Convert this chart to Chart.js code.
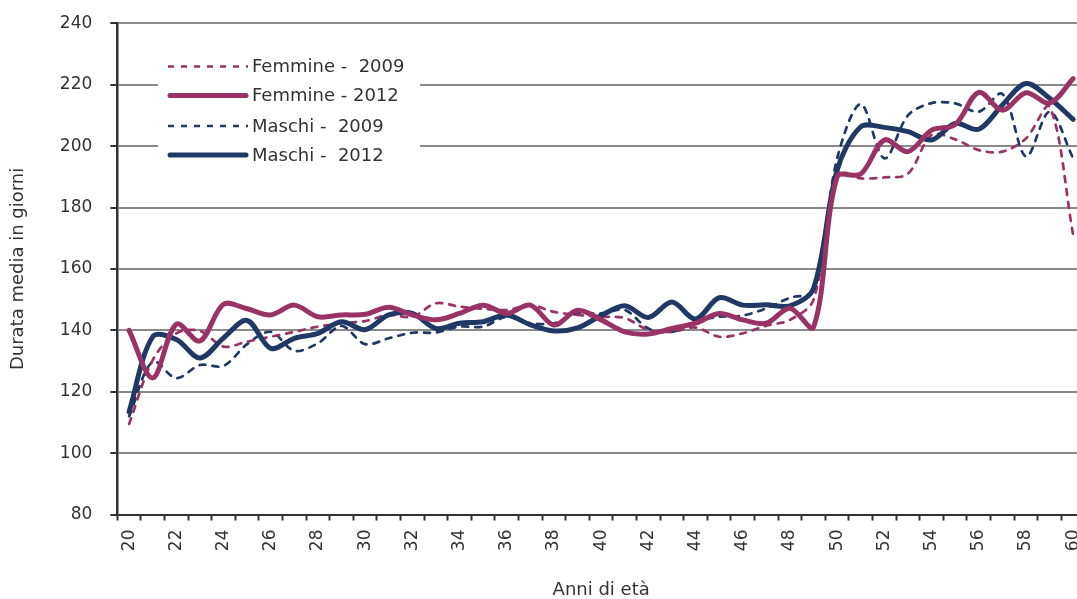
<!DOCTYPE html>
<html><head><meta charset="utf-8">
<script src="https://cdn.jsdelivr.net/npm/chart.js@4.4.1/dist/chart.umd.min.js"></script>
<style>html,body{margin:0;padding:0;background:#fff;overflow:hidden}#wrap{position:relative;width:1100px;height:599px}</style>
</head><body><div id="wrap"><canvas id="c" width="1100" height="599"></canvas></div>
<script>
const ages = [20,21,22,23,24,25,26,27,28,29,30,31,32,33,34,35,36,37,38,39,40,41,42,43,44,45,46,47,48,49,50,51,52,53,54,55,56,57,58,59,60];
const yTicks = [80,100,120,140,160,180,200,220,240];
const femmine2009 = [109.5,130.3,139,139.8,134.7,136.3,137.9,139.5,141.2,142.3,143,145,144.4,148.8,147.7,147,146.6,148.2,146,145,144.4,144,140.1,139.5,140.9,137.9,139,141.5,143.4,150,191,189.5,189.8,191,203.6,202.2,198.7,198.2,202.5,212.8,171];
const femmine2012 = [140,124.5,142,136.5,148.5,147,145,148.2,144.4,145,145.2,147.5,145,143.4,145.5,148.2,145.5,148.2,141.7,146.5,143.4,139.5,138.8,140.6,142.3,145.5,143.4,142.3,147.2,141,190,190.9,202,198.2,205.2,207,217.5,211.7,217.4,214,222];
const maschi2009 = [112,129.8,124.4,128.7,128.4,135.5,139.5,133.3,135.8,141.4,135.5,137.4,139.2,139.3,141.2,141.2,144.4,142.3,142.3,145.5,145.5,146.6,140.6,139.5,142.8,144.4,144.8,147.2,150.6,153,196,213.7,196,210,214,213.9,211.2,217,196.6,211.2,196];
const maschi2012 = [113.5,137.9,137,131,137.5,143.2,134.1,137.4,139,142.8,140.2,145,145.5,140.6,142.3,142.8,145,141.8,139.8,140.8,144.8,148,144.2,149.2,143.7,150.6,148.2,148.3,148,153.7,192.2,206.3,206.1,204.7,202,207.4,205.5,213.4,220.4,215.6,208.7];

const MAROON = '#993366';
const NAVY = '#1F3864';
const TEXT = '#333333';
const FONT = 'DejaVu Sans';

const LEG = {x: 158, y: 50, w: 262, h: 122, lineX0: 168, lineX1: 248, textX: 252, rows: [66.5, 95.5, 126, 155], size: 18};

const legendPlugin = {
  id: 'boxLegend',
  afterDatasetsDraw(chart) {
    const ctx = chart.ctx;
    ctx.save();
    ctx.fillStyle = '#ffffff';
    ctx.fillRect(LEG.x, LEG.y, LEG.w, LEG.h);
    chart.data.datasets.forEach((ds, i) => {
      const y = LEG.rows[i];
      ctx.beginPath();
      const dashed = ds.borderDash && ds.borderDash.length;
      ctx.setLineDash(dashed ? ds.borderDash : []);
      ctx.lineCap = dashed ? 'butt' : 'round';
      ctx.lineWidth = ds.borderWidth;
      ctx.strokeStyle = ds.borderColor;
      ctx.moveTo(dashed ? LEG.lineX0 : LEG.lineX0 + 2, y);
      ctx.lineTo(dashed ? LEG.lineX1 : LEG.lineX1 - 2, y);
      ctx.stroke();
      ctx.setLineDash([]);
      ctx.fillStyle = TEXT;
      ctx.font = LEG.size + 'px "' + FONT + '"';
      ctx.textBaseline = 'middle';
      ctx.textAlign = 'left';
      ctx.fillText(ds.label, LEG.textX, y + 1);
    });
    ctx.restore();
  }
};

new Chart(document.getElementById('c'), {
  type: 'line',
  data: {
    labels: ages,
    datasets: [
      {label: 'Femmine -  2009', data: femmine2009, borderColor: MAROON, borderWidth: 2.7, borderDash: [6, 7], order: 2},
      {label: 'Femmine - 2012', data: femmine2012, borderColor: MAROON, borderWidth: 5, order: 1},
      {label: 'Maschi -  2009', data: maschi2009, borderColor: NAVY, borderWidth: 2.7, borderDash: [6, 7], order: 2},
      {label: 'Maschi -  2012', data: maschi2012, borderColor: NAVY, borderWidth: 5, order: 1}
    ]
  },
  options: {
    responsive: false,
    animation: false,
    layout: {padding: {left: 0, right: 15, top: 23.3, bottom: 0}},
    elements: {line: {tension: 0.33, fill: false, borderCapStyle: 'round', borderJoinStyle: 'round'}, point: {radius: 0, hoverRadius: 0}},
    plugins: {legend: {display: false}, tooltip: {enabled: false}},
    scales: {
      x: {
        type: 'category',
        offset: true,
        grid: {offset: true, drawOnChartArea: false, drawTicks: true, tickLength: 6, tickColor: TEXT, tickWidth: 2},
        border: {color: TEXT, width: 2},
        ticks: {autoSkip: false, maxRotation: 90, minRotation: 90, padding: 9, color: TEXT,
          font: {family: FONT, size: 17},
          callback: (v, i) => (i % 2 === 0 ? String(ages[i]) : '')},
        title: {display: true, text: 'Anni di età', color: TEXT, font: {family: FONT, size: 18, lineHeight: 1}, padding: {top: 0, bottom: 0}},
        afterFit: s => { s.height = 599 - 514.5; s.paddingLeft = 0; s.paddingRight = 0; }
      },
      y: {
        min: 80, max: 240,
        afterBuildTicks: s => { s.ticks = yTicks.map(v => ({value: v})); },
        grid: {color: '#8a8a8a', lineWidth: 2, drawTicks: true, tickLength: 7, tickColor: TEXT, tickWidth: 2},
        border: {color: TEXT, width: 2.5},
        ticks: {padding: 18, color: TEXT, font: {family: FONT, size: 17}},
        title: {display: true, text: 'Durata media in giorni', color: TEXT, font: {family: FONT, size: 18, lineHeight: 1}, padding: {top: 9.5, bottom: 0}},
        afterFit: s => { s.width = 117.3; s.paddingTop = 0; s.paddingBottom = 0; }
      }
    }
  },
  plugins: [legendPlugin]
});
</script>
</body></html>
